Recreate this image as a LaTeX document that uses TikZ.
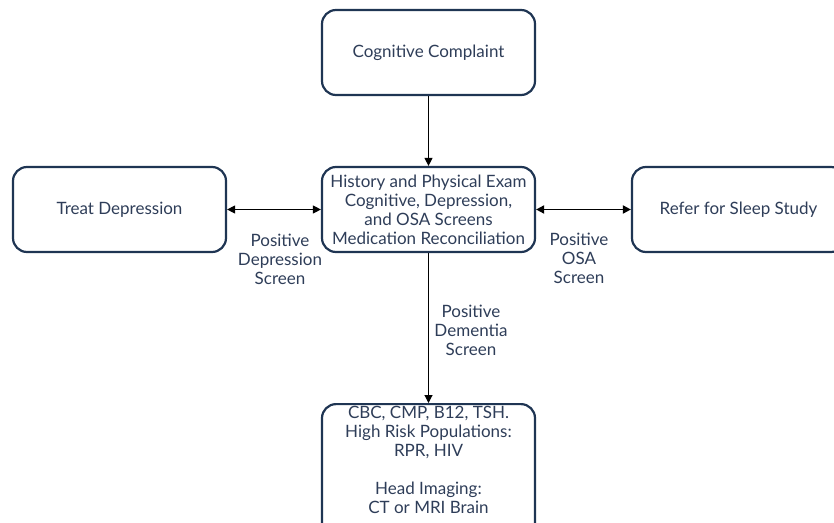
\documentclass[tikz,border=0pt]{standalone}
\usepackage{fontspec}
\setmainfont{Lato}
\usetikzlibrary{arrows.meta}
\definecolor{navy}{HTML}{1F3553}
\definecolor{txt}{HTML}{2E3D58}
\begin{document}
\begin{tikzpicture}[x=1pt,y=-1pt,
  box/.style={draw=navy, line width=2.2pt, rounded corners=14pt, minimum width=213pt, minimum height=85pt, text=txt, font=\fontsize{17}{19}\selectfont, align=center, inner sep=0pt},
  lbl/.style={text=txt, font=\fontsize{17}{19}\selectfont, align=center},
  arr/.style={-{Triangle[length=8pt,width=8pt]}, line width=1.1pt, black},
  darr/.style={{Triangle[length=8pt,width=8pt]}-{Triangle[length=8pt,width=8pt]}, line width=1.1pt, black}]
\useasboundingbox (0,0) rectangle (834,522);
\clip (0,0) rectangle (834,522);
\node[box] (cc) at (428.5,52.5) {Cognitive Complaint};
\node[box] (hp) at (428.5,209.5) {History and Physical Exam\\Cognitive, Depression,\\and OSA Screens\\Medication Reconciliation};
\node[box] (td) at (119.5,209.5) {Treat Depression};
\node[box] (rs) at (738.5,209.5) {Refer for Sleep Study};
\node[box, minimum height=140pt, anchor=north] (lab) at (428.5,403) {};
\node[lbl, anchor=north, inner sep=0pt] at (428.5,406) {CBC, CMP, B12, TSH.\\High Risk Populations:\\RPR, HIV\\[19pt]Head Imaging:\\CT or MRI Brain};
\draw[arr] (cc) -- (hp);
\draw[arr] (hp) -- (lab);
\draw[darr] (td) -- (hp);
\draw[darr, line width=1.8pt] (hp) -- (rs);
\node[lbl] (l1) at (280,259) {Positive\\Depression\\Screen};
\node[lbl] (l2) at (579,258) {Positive\\OSA\\Screen};
\node[lbl] (l3) at (471,330) {Positive\\Dementia\\Screen};
\end{tikzpicture}
\end{document}
